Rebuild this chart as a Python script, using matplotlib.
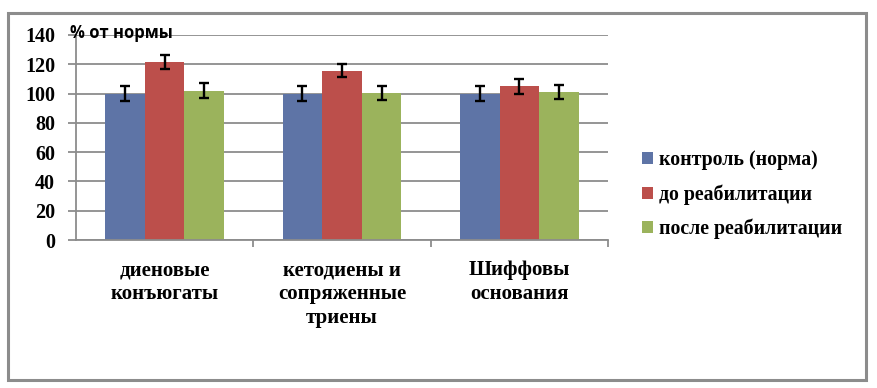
import numpy as np
import matplotlib
matplotlib.use("Agg")
import matplotlib.pyplot as plt
from matplotlib.patches import Rectangle

# данные
categories = ["диеновые\nконъюгаты", "кетодиены и\nсопряженные\nтриены", "Шиффовы\nоснования"]
series_names = ["контроль (норма)", "до реабилитации", "после реабилитации"]
control = [100, 100, 100]
before = [121.5, 115.5, 105]
after = [102, 100.5, 101]
err_control = [5, 5, 5]
err_before = [5, 4.5, 5]
err_after = [5, 5, 5]

colors = ["#5E74A6", "#BC4F4B", "#9BB35C"]

fig = plt.figure(figsize=(8.77, 3.88), dpi=100)
# рамка вокруг диаграммы
fig.patches.append(Rectangle((8 / 877, 8 / 388), 858 / 877, 367 / 388, transform=fig.transFigure,
                             fill=False, edgecolor="#8c8c8c", linewidth=2.2))

ax = fig.add_axes([76 / 877, 1 - 240 / 388, 532 / 877, 205 / 388])

x = np.arange(len(categories))
w = 0.223
vals = [control, before, after]
errs = [err_control, err_before, err_after]
for i in range(3):
    ax.bar(x + (i - 1) * w, vals[i], w, color=colors[i], label=series_names[i], zorder=2)
    ax.errorbar(x + (i - 1) * w, vals[i], yerr=errs[i], fmt="none", ecolor="black",
                elinewidth=1.7, capsize=3.8, capthick=1.7, zorder=3)

ax.set_xlim(-0.5, 2.5)
ax.set_ylim(0, 140)
ax.set_yticks(range(0, 141, 20))
ax.yaxis.grid(True, color="#8c8c8c", linewidth=1.3, zorder=0)
ax.set_axisbelow(True)
for s in ["top", "right"]:
    ax.spines[s].set_visible(False)
ax.spines["left"].set_color("#8c8c8c")
ax.spines["bottom"].set_color("#8c8c8c")
ax.spines["left"].set_linewidth(1.3)
ax.spines["bottom"].set_linewidth(1.3)

ax.set_xticks([0.5, 1.5, 2.5], minor=False)
ax.set_xticklabels([])
ax.tick_params(axis="x", length=5, color="#8c8c8c", width=1.3)
ax.tick_params(axis="y", length=6, color="#8c8c8c", width=1.3, pad=9)
for lab in ax.get_yticklabels():
    lab.set_fontfamily("Liberation Serif")
    lab.set_fontweight("bold")
    lab.set_fontsize(14.5)

for i, c in enumerate(categories):
    ax.text(x[i], -14, c, ha="center", va="top", fontsize=15, family="Liberation Serif",
            fontweight="bold", linespacing=1.25, transform=ax.transData)

fig.text(70 / 877, 1 - 33 / 388, "% от нормы", ha="left", va="center", fontsize=12,
         family="Open Sans", fontweight="bold")

leg = ax.legend(loc="center left", bbox_to_anchor=(1.03, 0.22), frameon=False,
                prop={"family": "Liberation Serif", "weight": "bold", "size": 14.3},
                handlelength=0.55, handleheight=0.55, handletextpad=0.3, labelspacing=0.7)

fig.savefig("out.png", dpi=100)
